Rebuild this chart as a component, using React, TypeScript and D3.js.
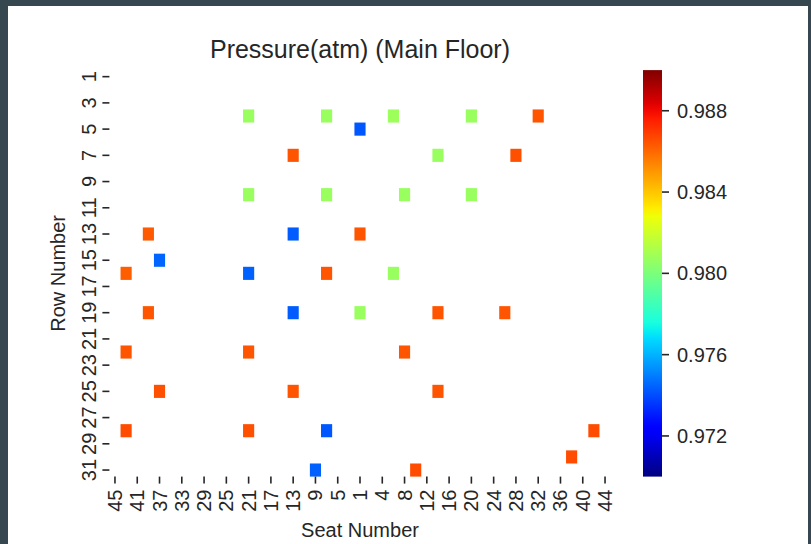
import React from "react";
import * as d3 from "d3";

// ---- data ----
const seatColumns: number[] = [
  45, 43, 41, 39, 37, 35, 33, 31, 29, 27, 25, 23, 21, 19, 17, 15, 13, 11, 9, 7, 5, 3, 1,
  2, 4, 6, 8, 10, 12, 14, 16, 18, 20, 22, 24, 26, 28, 30, 32, 34, 36, 38, 40, 42, 44,
];
const rowLabels: number[] = [
  1, 2, 3, 4, 5, 6, 7, 8, 9, 10, 11, 12, 13, 14, 15, 16, 17, 18, 19, 20, 21, 22, 23, 24, 25,
  26, 27, 28, 29, 30, 31,
];
const xTickSeats: number[] = [45, 41, 37, 33, 29, 25, 21, 17, 13, 9, 5, 1, 4, 8, 12, 16, 20, 24, 28, 32, 36, 40, 44];
const yTickRows: number[] = [1, 3, 5, 7, 9, 11, 13, 15, 17, 19, 21, 23, 25, 27, 29, 31];
const cbarTicks: number[] = [0.972, 0.976, 0.98, 0.984, 0.988];
const colorDomain: [number, number] = [0.97, 0.99];

// [row, seat, pressure]
const cells: [number, number, number][] = [
  [4, 21, 0.9807], [4, 7, 0.9807], [4, 6, 0.9808], [4, 20, 0.9807], [4, 32, 0.9864],
  [5, 1, 0.9742],
  [7, 13, 0.9864], [7, 14, 0.9807], [7, 28, 0.9865],
  [10, 21, 0.9807], [10, 7, 0.9807], [10, 8, 0.9807], [10, 20, 0.9807],
  [13, 39, 0.9863], [13, 13, 0.9743], [13, 1, 0.9864],
  [15, 37, 0.9745],
  [16, 43, 0.9862], [16, 21, 0.9744], [16, 7, 0.9864], [16, 6, 0.9807],
  [19, 39, 0.9864], [19, 13, 0.9743], [19, 1, 0.9807], [19, 14, 0.9864], [19, 26, 0.9864],
  [22, 43, 0.9864], [22, 21, 0.9864], [22, 8, 0.9864],
  [25, 37, 0.9865], [25, 13, 0.9864], [25, 14, 0.9864],
  [28, 43, 0.9866], [28, 21, 0.9865], [28, 7, 0.9742], [28, 42, 0.9866],
  [30, 38, 0.9866],
  [31, 9, 0.9744], [31, 10, 0.9866],
];

// ---- jet colormap (matplotlib segment data) ----
const jetR = d3.scaleLinear().domain([0, 0.35, 0.66, 0.89, 1]).range([0, 0, 1, 1, 0.5]).clamp(true);
const jetG = d3.scaleLinear().domain([0, 0.125, 0.375, 0.64, 0.91, 1]).range([0, 0, 1, 1, 0, 0]).clamp(true);
const jetB = d3.scaleLinear().domain([0, 0.11, 0.34, 0.65, 1]).range([0.5, 1, 1, 0, 0]).clamp(true);
const jet = (t: number) =>
  d3.rgb(Math.round(255 * jetR(t)), Math.round(255 * jetG(t)), Math.round(255 * jetB(t))).formatHex();
const norm = d3.scaleLinear().domain(colorDomain).range([0, 1]).clamp(true);
const colorOf = (v: number) => jet(norm(v));

const W = 811;
const H = 544;
const plotL = 109.4;
const plotR = 610.6;
const plotT = 70.1;
const plotB = 476.6;
const cbL = 643;
const cbW = 19;
const FONT = "'Liberation Sans', Arial, sans-serif";
const TXT = "#262626";

export default function App() {
  const x = d3.scaleBand<number>().domain(seatColumns).range([plotL, plotR]);
  const y = d3.scaleBand<number>().domain(rowLabels).range([plotT, plotB]);
  const cb = d3.scaleLinear().domain(colorDomain).range([plotB, plotT]);
  const stops = d3.range(0, 1.0001, 0.02);

  return (
    <svg
      width={W}
      height={H}
      style={{ position: "absolute", left: 0, top: 0, display: "block" }}
      fontFamily={FONT}
    >
      <defs>
        <linearGradient id="jetGrad" x1="0" y1="1" x2="0" y2="0">
          {stops.map((s) => (
            <stop key={s} offset={s} stopColor={jet(s)} />
          ))}
        </linearGradient>
      </defs>
      <rect x={0} y={0} width={W} height={H} fill="#ffffff" />
      {/* dark frame */}
      <rect x={0} y={0} width={W} height={6} fill="#37474f" />
      <rect x={0} y={0} width={8} height={H} fill="#37474f" />
      <rect x={W - 3} y={0} width={3} height={H} fill="#37474f" />

      {/* cells */}
      {cells.map(([r, s, v], i) => (
        <rect
          key={i}
          x={x(s)}
          y={y(r)}
          width={x.bandwidth()}
          height={y.bandwidth()}
          fill={colorOf(v)}
        />
      ))}

      {/* y ticks */}
      {yTickRows.map((r) => {
        const cy = (y(r) as number) + y.bandwidth() / 2;
        return (
          <g key={r}>
            <line x1={plotL - 7} x2={plotL} y1={cy} y2={cy} stroke={TXT} strokeWidth={1.6} />
            <text
              transform={`translate(96,${cy}) rotate(-90)`}
              textAnchor="middle"
              fontSize={20}
              fill={TXT}
            >
              {r}
            </text>
          </g>
        );
      })}

      {/* x ticks */}
      {xTickSeats.map((s) => {
        const cx = (x(s) as number) + x.bandwidth() / 2;
        return (
          <g key={s}>
            <line x1={cx} x2={cx} y1={plotB} y2={plotB + 7} stroke={TXT} strokeWidth={1.6} />
            <text
              transform={`translate(${cx},${plotB + 13}) rotate(-90)`}
              textAnchor="end"
              dy="0.35em"
              fontSize={20}
              fill={TXT}
            >
              {s}
            </text>
          </g>
        );
      })}

      {/* colorbar */}
      <rect x={cbL} y={plotT} width={cbW} height={plotB - plotT} fill="url(#jetGrad)" />
      {cbarTicks.map((t) => (
        <g key={t}>
          <line x1={cbL + cbW} x2={cbL + cbW + 7} y1={cb(t)} y2={cb(t)} stroke={TXT} strokeWidth={1.6} />
          <text x={cbL + cbW + 15} y={cb(t)} dy="0.35em" fontSize={20} fill={TXT}>
            {d3.format(".3f")(t)}
          </text>
        </g>
      ))}

      {/* titles */}
      <text x={(plotL + plotR) / 2} y={58} textAnchor="middle" fontSize={25} fill={TXT}>
        Pressure(atm) (Main Floor)
      </text>
      <text x={(plotL + plotR) / 2} y={537} textAnchor="middle" fontSize={20} fill={TXT}>
        Seat Number
      </text>
      <text
        transform={`translate(65,${(plotT + plotB) / 2}) rotate(-90)`}
        textAnchor="middle"
        fontSize={20}
        fill={TXT}
      >
        Row Number
      </text>
    </svg>
  );
}
